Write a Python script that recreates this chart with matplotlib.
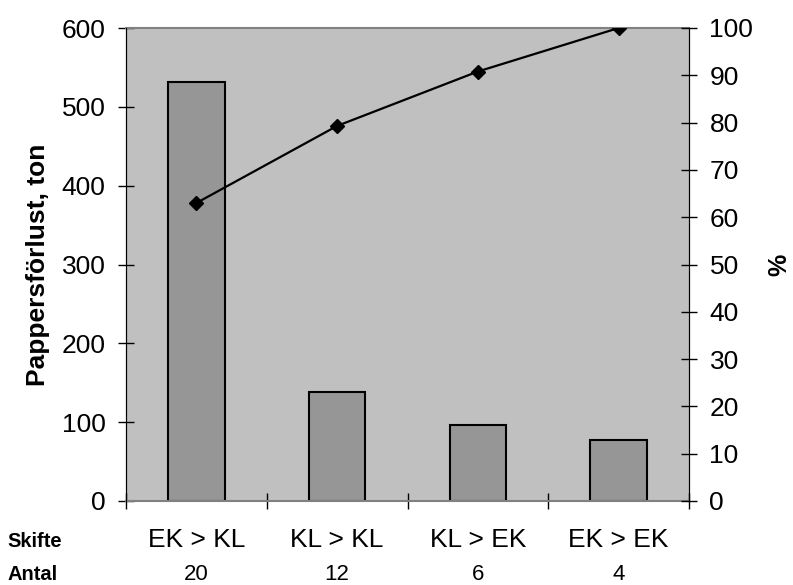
import numpy as np
import matplotlib.pyplot as plt

plt.rcParams['font.family'] = ['Liberation Sans', 'DejaVu Sans']

# Pappersförlust per skifte
skifte = ['EK > KL', 'KL > KL', 'KL > EK', 'EK > EK']
antal = [20, 12, 6, 4]
forlust = [532, 138, 97, 78]
kumulativ = [63.0, 79.3, 90.8, 100.0]

W, H = 793, 585
fig = plt.figure(figsize=(W / 100, H / 100), dpi=100)
ax = fig.add_axes([126 / W, 1 - 501 / H, 563 / W, 473 / H])
ax.set_facecolor('#c0c0c0')

x = np.arange(len(skifte))
ax.bar(x, forlust, width=0.40, color='#969696', edgecolor='black', linewidth=1.5, zorder=2)
ax.set_xlim(-0.5, len(skifte) - 0.5)
ax.set_ylim(0, 600)
ax.set_yticks(np.arange(0, 601, 100))
ax.set_xticks(np.arange(-0.5, len(skifte), 1.0))
ax.set_xticklabels([])
ax.tick_params(axis='x', direction='inout', length=11.5, width=1)
ax.tick_params(axis='y', direction='inout', length=11.5, width=1, labelsize=19, pad=9)
ax.set_ylabel('Pappersförlust, ton', fontsize=19, fontweight='bold')
ax.yaxis.set_label_coords(-0.135, 0.5)

for side in ['top', 'bottom']:
    ax.spines[side].set_color('#808080')
    ax.spines[side].set_linewidth(1.5)
ax.spines['left'].set_color('black')
ax.spines['right'].set_color('black')

ax2 = ax.twinx()
ax2.plot(x, kumulativ, color='black', linewidth=1.6, marker='D', markersize=7, zorder=3)
ax2.set_ylim(0, 100)
ax2.set_yticks(np.arange(0, 101, 10))
ax2.tick_params(axis='y', direction='inout', length=11.5, width=1, labelsize=19, pad=9)
ax2.set_ylabel('%', fontsize=18, fontweight='bold')
ax2.yaxis.set_label_coords(1.14, 0.5)
ax2.spines['top'].set_visible(False)
ax2.spines['bottom'].set_visible(False)
ax2.spines['right'].set_color('black')

# Tabellrader under diagrammet
row_skifte = 1 - 547 / H
row_antal = 1 - 580 / H
for xi, namn, n in zip(x, skifte, antal):
    xf = fig.transFigure.inverted().transform(ax.transData.transform((xi, 0)))[0]
    fig.text(xf, row_skifte, namn, ha='center', va='baseline', fontsize=19)
    fig.text(xf, row_antal, str(n), ha='center', va='baseline', fontsize=16)
fig.text(7 / W, row_skifte, 'Skifte', ha='left', va='baseline', fontsize=14.5, fontweight='bold')
fig.text(7 / W, row_antal, 'Antal', ha='left', va='baseline', fontsize=14.5, fontweight='bold')

fig.savefig('out.png', dpi=100)
